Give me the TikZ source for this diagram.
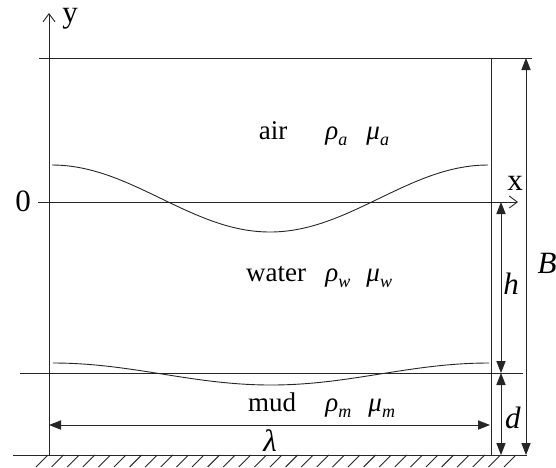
\documentclass[tikz,border=0pt]{standalone}
\usepackage{fontspec}
\setmainfont{Liberation Serif}
\usetikzlibrary{arrows.meta}
\newcommand{\prop}[2]{\textit{#1}\raisebox{-0.5ex}{\fontsize{9}{9}\selectfont\textit{#2}}}

\begin{document}
\begin{tikzpicture}[
  x=0.5pt, y=-0.5pt,
  line width=0.45pt, draw=black!85,
  axis/.style={-{Straight Barb[length=4pt,width=6pt]}},
  dim/.style={{Triangle[length=6pt,width=4.6pt]}-{Triangle[length=6pt,width=4.6pt]}},
  lbl/.style={font=\fontsize{13.5}{16}\selectfont, inner sep=0pt},
  big/.style={font=\fontsize{15.5}{18}\selectfont, inner sep=0pt},
  wave/.style={line width=0.45pt, smooth},
]
\useasboundingbox (0,0) rectangle (556,467);

% ---- Frame ----
\coordinate (ytop) at (49,13);
\coordinate (ybot) at (49,455);
\coordinate (tl) at (39,58);
\coordinate (tr) at (532,58);
\coordinate (wtop) at (491,58);
\coordinate (wbot) at (491,455);
\coordinate (gl) at (13,455);
\coordinate (gr) at (527,455);
\coordinate (xl) at (38,202);
\coordinate (xr) at (518,202);
\coordinate (ml) at (20,373);
\coordinate (mr) at (523,373);

\draw (tl) -- (tr);
\draw (wtop) -- (wbot);
\draw (gl) -- (gr);
\draw (ml) -- (mr);
\draw[axis] (ybot) -- (ytop);
\draw[axis] (xl) -- (xr);

% ground hatching
\foreach \i in {0,...,30}
  \draw ({48+15.6*\i},455) -- ++(-12,12);

% ---- Interfaces ----
\draw[wave] plot[domain=0:360, samples=61] ({52+1.2111*\x},{198.5-33.5*cos(\x)});
\draw[wave] plot[domain=0:360, samples=61] ({53+1.2111*\x},{374-11*cos(\x)});

% ---- Dimensions ----
\coordinate (bt) at (526,58);
\coordinate (bb) at (526,455);
\coordinate (ht) at (501,202);
\coordinate (hb) at (501,373);
\coordinate (db) at (501,455);
\coordinate (lal) at (49,425);
\coordinate (lar) at (490,425);

\draw[dim] (bt) -- (bb);
\draw[dim] (ht) -- (hb);
\draw[dim] (hb) -- (db);
\draw[dim] (lal) -- (lar);

% ---- Labels ----
\node[big] (ylab) at (70,19) {y};
\node[big] (xlab) at (515,183) {x};
\node[big] (zero) at (23,201) {0};
\node[big] (blab) at (547,263) {\textit{B}};
\node[big] (hlab) at (511,284) {\textit{h}};
\node[big] (dlab) at (513,418) {\textit{d}};
\node[big] (lamlab) at (270,441) {\textit{λ}};

% ---- Layers ----
\node[lbl, anchor=base] (air) at (273,139) {air};
\node[lbl, anchor=base west] (rhoa) at (325,139) {\prop{ρ}{a}};
\node[lbl, anchor=base west] (mua) at (366,139) {\prop{μ}{a}};

\node[lbl, anchor=base] (water) at (276,281) {water};
\node[lbl, anchor=base west] (rhow) at (325,281) {\prop{ρ}{w}};
\node[lbl, anchor=base west] (muw) at (366,281) {\prop{μ}{w}};

\node[lbl, anchor=base] (mud) at (272,411) {mud};
\node[lbl, anchor=base west] (rhom) at (325,411) {\prop{ρ}{m}};
\node[lbl, anchor=base west] (mum) at (368,411) {\prop{μ}{m}};

\end{tikzpicture}
\end{document}
